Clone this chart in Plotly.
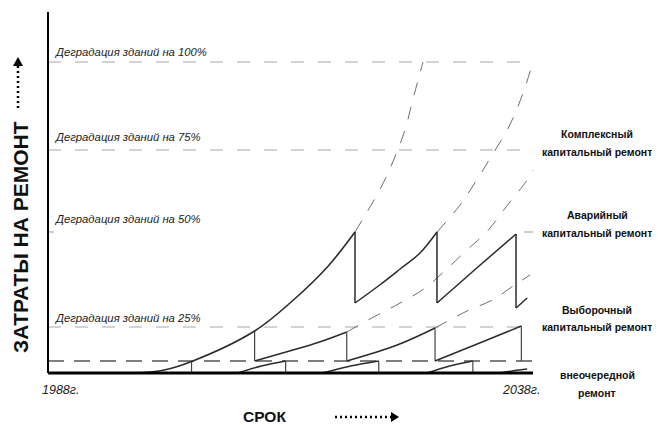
import plotly.graph_objects as go

# page has an 8px body margin, so the figure is drawn 8px in from the window edge
OFF = 8
W, H = 660 - OFF, 425 - OFF

# x axis: years, y axis: repair cost units (0 = baseline)
x_start, x_end = 1988, 2038
year_labels = ["1988г.", "2038г."]

level_labels = ["Деградация зданий на 100%", "Деградация зданий на 75%",
                "Деградация зданий на 50%", "Деградация зданий на 25%"]
level_y = [311, 223, 141, 46]
extra_level_y = 12  # dark dashed line

# main (no-repair) growth curve, solid part
main_x = [1997.0, 2000.0, 2002.8, 2009.3, 2013.3, 2016.8, 2019.65]
main_y = [0, 3, 11.5, 42, 73, 106, 141]
# its dashed continuation
main_dash_x = [2019.65, 2020.7, 2022.2, 2023.5, 2024.8, 2025.6, 2026.66]
main_dash_y = [141, 158, 183, 210, 243, 273, 311]

# emergency capital repair sawtooth
avar_x = [[2019.65, 2022.2, 2024.3, 2026.35, 2028.1],
          [2028.1, 2032.2, 2036.25],
          [2036.25, 2037.4]]
avar_y = [[70, 88, 104, 120, 141],
          [70, 105, 139],
          [65, 75]]
avar_drop_x = [2019.65, 2028.1, 2036.25]
avar_drop_top = [141, 141, 139]
avar_drop_bot = [70, 70, 65]
avar_dash_x = [2028.1, 2030.4, 2032.2, 2033.6, 2035.6, 2036.9, 2038.0]
avar_dash_y = [141, 167, 193, 215, 248, 278, 311]

# selective capital repair sawtooth
vyb_x = [[2009.3, 2012.9, 2016.0, 2018.8],
         [2018.8, 2024.0, 2027.9],
         [2027.9, 2032.5, 2036.8]]
vyb_y = [[12, 22, 31, 41],
         [12, 28, 45],
         [12, 30, 47]]
vyb_drop_x = [2009.3, 2018.8, 2027.9, 2036.8]
vyb_drop_top = [42, 41, 45, 47]
vyb_dash = [([2018.8, 2021.0, 2024.3, 2026.9, 2029.1, 2031.2, 2033.3, 2035.3, 2037.4, 2038.0],
             [41, 53, 70, 85, 104, 123, 142, 167, 193, 203]),
            ([2027.9, 2031.2, 2033.8, 2036.1, 2037.7],
             [45, 62, 73, 88, 98])]

# extraordinary repair sawtooth
vne_x = [[2007.5, 2010.0, 2012.5],
         [2016.3, 2019.2, 2022.1],
         [2027.1, 2029.4, 2031.8],
         [2034.6, 2036.0, 2037.4]]
vne_y = [[0, 7, 12],
         [0, 7, 12],
         [0, 7, 12],
         [0, 2.3, 4]]
vne_drop_x = [2002.8, 2012.5, 2022.1, 2031.8]
vne_drop_top = [11.5, 12, 12, 12]

repair_labels = [["Комплексный", "капитальный ремонт"],
                 ["Аварийный", "капитальный ремонт"],
                 ["Выборочный", "капитальный ремонт"],
                 ["внеочередной", "ремонт"]]

SOLID = "#2b2b2b"
DASHC = "#6e6e6e"
FONT = "Liberation Sans, Arial"


def px(x):  # window pixel -> paper
    return (x - OFF) / W


def py(y):
    return 1 - (y - OFF) / H


fig = go.Figure()

# horizontal degradation levels
for y in [level_y[0], level_y[1], level_y[3]]:
    fig.add_trace(go.Scatter(x=[x_start, x_end], y=[y, y], mode="lines",
                             line=dict(color="#a8a8a8", width=1.2, dash="13px,14px")))
# 50% level only shows its ends
fig.add_trace(go.Scatter(x=[x_start, x_start + 0.6, None, x_end - 0.9, x_end],
                         y=[level_y[2], level_y[2], None, level_y[2], level_y[2]],
                         mode="lines", line=dict(color="#a8a8a8", width=1.2)))
fig.add_trace(go.Scatter(x=[x_start, x_end], y=[extra_level_y, extra_level_y], mode="lines",
                         line=dict(color="#555555", width=1.3, dash="16px,10px")))

# dashed continuations
for xs, ys in [(main_dash_x, main_dash_y), (avar_dash_x, avar_dash_y)] + vyb_dash:
    fig.add_trace(go.Scatter(x=xs, y=ys, mode="lines",
                             line=dict(color=DASHC, width=1, dash="13px,12px", shape="spline")))

# solid curves
fig.add_trace(go.Scatter(x=main_x, y=main_y, mode="lines",
                         line=dict(color=SOLID, width=1.6, shape="spline")))
for xs, ys in zip(avar_x + vyb_x + vne_x, avar_y + vyb_y + vne_y):
    fig.add_trace(go.Scatter(x=xs, y=ys, mode="lines",
                             line=dict(color=SOLID, width=1.5, shape="spline")))

# vertical drops
dx, dy = [], []
for x, t, b in zip(avar_drop_x, avar_drop_top, avar_drop_bot):
    dx += [x, x, None]
    dy += [t, b, None]
fig.add_trace(go.Scatter(x=dx, y=dy, mode="lines", line=dict(color=SOLID, width=1.5)))
dx, dy = [], []
for x, t in zip(vyb_drop_x, vyb_drop_top):
    dx += [x, x, None]
    dy += [t, extra_level_y, None]
for x, t in zip(vne_drop_x, vne_drop_top):
    dx += [x, x, None]
    dy += [t, 0, None]
fig.add_trace(go.Scatter(x=dx, y=dy, mode="lines", line=dict(color="#444444", width=1.2)))

# axes lines
fig.add_trace(go.Scatter(x=[x_start, x_end], y=[0, 0], mode="lines",
                         line=dict(color="black", width=3)))
fig.add_trace(go.Scatter(x=[x_start, x_start], y=[0, 361], mode="lines",
                         line=dict(color="black", width=2)))

ann = []
label_py = [52, 137, 219, 318]
for t, yy in zip(level_labels, label_py):
    ann.append(dict(x=px(53), y=py(yy), text="<i>" + t + "</i>", xanchor="left",
                    font=dict(family=FONT, size=11.3, color="#222")))
ann.append(dict(x=px(60), y=py(390), text="<i>" + year_labels[0] + "</i>",
                font=dict(family=FONT, size=12.5, color="#222")))
ann.append(dict(x=px(521), y=py(390), text="<i>" + year_labels[1] + "</i>",
                font=dict(family=FONT, size=12.5, color="#222")))
ann.append(dict(x=px(264), y=py(416), text="<b>СРОК</b>",
                font=dict(family=FONT, size=15.5, color="#111")))
ann.append(dict(x=px(20), y=py(237), text="<b>ЗАТРАТЫ НА РЕМОНТ</b>", textangle=-90,
                font=dict(family=FONT, size=21, color="#111")))
lab_py = [[134, 152], [215, 233], [310, 327], [375, 393]]
for (l1, l2), (y1, y2) in zip(repair_labels, lab_py):
    ann.append(dict(x=px(597), y=py(y1), text="<b>" + l1 + "</b>",
                    font=dict(family=FONT, size=10.5, color="#111")))
    ann.append(dict(x=px(597), y=py(y2), text="<b>" + l2 + "</b>",
                    font=dict(family=FONT, size=10.5, color="#111")))
for a in ann:
    a.setdefault("xanchor", "center")
    a.update(xref="paper", yref="paper", yanchor="middle", showarrow=False, borderpad=0)

shapes = [
    dict(type="line", xref="paper", yref="paper", x0=px(335), x1=px(391), y0=py(417), y1=py(417),
         line=dict(color="black", width=2.5, dash="2px,3px")),
    dict(type="path", xref="paper", yref="paper", fillcolor="black", line=dict(width=0),
         path=f"M{px(391)},{py(412)} L{px(399)},{py(417)} L{px(391)},{py(422)} Z"),
    dict(type="line", xref="paper", yref="paper", x0=px(18), x1=px(18), y0=py(108), y1=py(66),
         line=dict(color="black", width=2.5, dash="2px,3px")),
    dict(type="path", xref="paper", yref="paper", fillcolor="black", line=dict(width=0),
         path=f"M{px(13)},{py(66)} L{px(18)},{py(57)} L{px(23)},{py(66)} Z"),
]

fig.update_layout(
    width=W, height=H, margin=dict(l=0, r=0, t=0, b=0),
    paper_bgcolor="white", plot_bgcolor="white", showlegend=False,
    xaxis=dict(range=[x_start + (OFF - 48) / 9.7, x_start + 612 / 9.7], visible=False),
    yaxis=dict(range=[-52, 373 - OFF], visible=False),
    annotations=ann, shapes=shapes,
)

fig.write_html("out.html")
